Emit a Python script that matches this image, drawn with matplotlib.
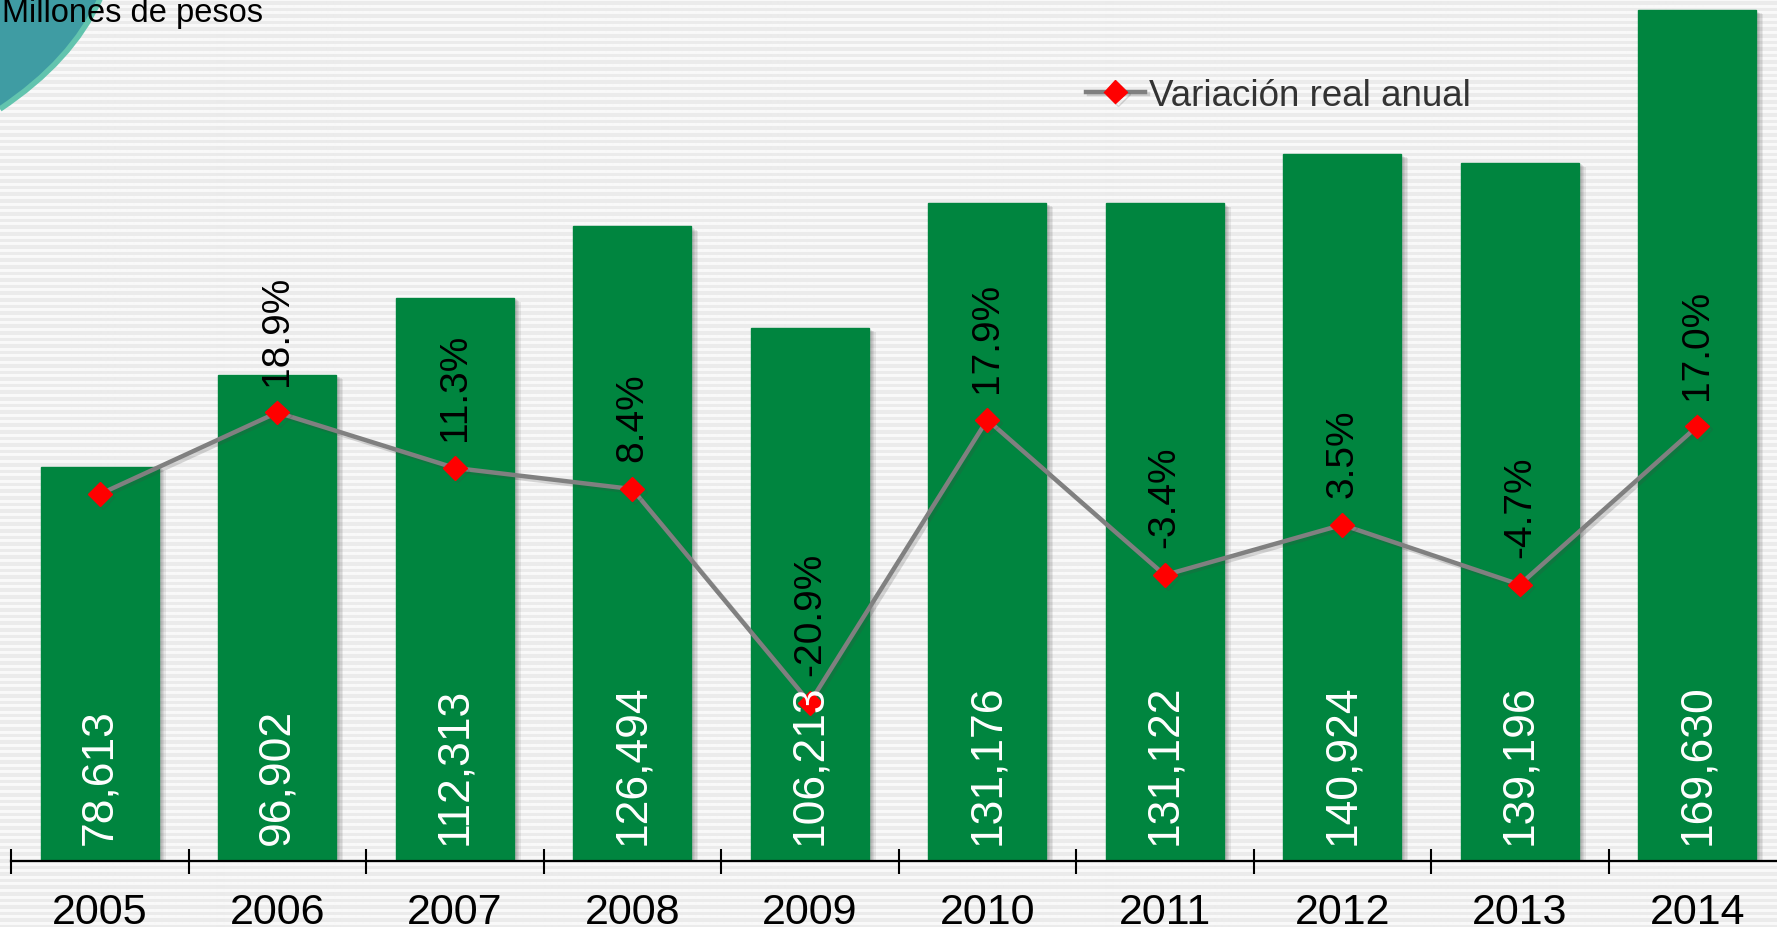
import matplotlib
matplotlib.use("Agg")
import matplotlib.pyplot as plt
import matplotlib.patheffects as pe
from matplotlib.path import Path
from matplotlib.patches import PathPatch
import numpy as np

plt.rcParams['font.family'] = ['Liberation Sans', 'DejaVu Sans']

years = ['2005', '2006', '2007', '2008', '2009', '2010', '2011', '2012', '2013', '2014']
montos = [78613, 96902, 112313, 126494, 106213, 131176, 131122, 140924, 139196, 169630]
variacion = [7.7, 18.9, 11.3, 8.4, -20.9, 17.9, -3.4, 3.5, -4.7, 17.0]
var_labels = ['', '18.9%', '11.3%', '8.4%', '-20.9%', '17.9%', '-3.4%', '3.5%', '-4.7%', '17.0%']

W, H = 1777, 928
fig = plt.figure(figsize=(W / 100, H / 100), dpi=100)

# striped background
bg = fig.add_axes([0, 0, 1, 1], zorder=-5)
rows = np.arange(H)
stripe = 0.92 + 0.055 * (np.cos(2 * np.pi * rows / 6.6) > 0.1)
bg.imshow(np.tile(stripe[:, None], (1, 4)), cmap='gray', vmin=0, vmax=1,
          aspect='auto', extent=(0, W, 0, H), interpolation='bilinear')
bg.set_xlim(0, W)
bg.set_ylim(0, H)
bg.axis('off')

# teal corner decoration
verts = [(0, H), (100, H), (72, H - 62), (0, H - 110), (0, H)]
codes = [Path.MOVETO, Path.LINETO, Path.CURVE3, Path.CURVE3, Path.CLOSEPOLY]
bg.add_patch(PathPatch(Path(verts, codes), facecolor='#3f9ca3', edgecolor='none'))
edge = Path(verts[1:4], [Path.MOVETO, Path.CURVE3, Path.CURVE3])
bg.add_patch(PathPatch(edge, facecolor='none', edgecolor='#62c4ae', lw=4))

fig.text(2 / W, 1 - 22 / H, 'Millones de pesos', fontsize=23.5, color='black',
         ha='left', va='baseline')

# main axes
left, base = 11 / W, (H - 862) / H
ax = fig.add_axes([left, base, 1775 / W, 862 / H])
ax.patch.set_visible(False)
x = np.arange(len(years))
bars = ax.bar(x, montos, width=0.665, color='#00853f', edgecolor='#00853f', zorder=2)
soft = [pe.SimplePatchShadow(offset=(d, -d * 0.6), shadow_rgbFace='#666666', alpha=0.12)
        for d in (5, 4, 3, 2)]
for b in bars:
    b.set_path_effects(soft + [pe.Normal()])
ax.set_xlim(-0.5, 9.5)
ax.set_ylim(0, 169630 * 862 / 851)
for s in ['top', 'right', 'left']:
    ax.spines[s].set_visible(False)
ax.spines['bottom'].set_linewidth(1.6)
ax.spines['bottom'].set_zorder(4)
ax.set_yticks([])
ax.set_xticks(x)
ax.set_xticklabels(years, fontsize=31)
ax.tick_params(axis='x', which='major', length=0, pad=22)
ax.set_xticks(np.arange(-0.5, 10, 1), minor=True)
ax.tick_params(axis='x', which='minor', direction='inout', length=18, width=1.5, color='black')

# real annual variation line
ax2 = ax.twinx()
ax2.set_ylim(-42.6, 75.6)
ax2.axis('off')
ax2.plot(x, variacion, color='#808080', lw=3.2, marker='D', markersize=12,
         markerfacecolor='#ff0000', markeredgecolor='#ff0000', zorder=3,
         label='Variación real anual',
         path_effects=[pe.SimpleLineShadow(offset=(2, -2), shadow_color='#444444', alpha=0.2),
                       pe.Normal()])
for xi, v, lab in zip(x, variacion, var_labels):
    if lab:
        ax2.annotate(lab, (xi, v), xytext=(0, 20), textcoords='offset points',
                     rotation=90, ha='center', va='bottom', fontsize=28, color='black')

lab_y = 17 * ax.get_ylim()[1] / 862
for xi, m in zip(x, montos):
    ax2.text(xi, lab_y, f'{m:,}', transform=ax.transData, rotation=90, ha='center',
             va='bottom', fontsize=32, color='white', zorder=6)

ax2.legend(loc='center left', bbox_to_anchor=(1086 / W, 1 - 96 / H),
           bbox_transform=fig.transFigure, frameon=False, fontsize=26.5,
           handlelength=1.6, handletextpad=0.1, borderpad=0, borderaxespad=0,
           labelcolor='#333333')

fig.savefig('out.png', dpi=100)
